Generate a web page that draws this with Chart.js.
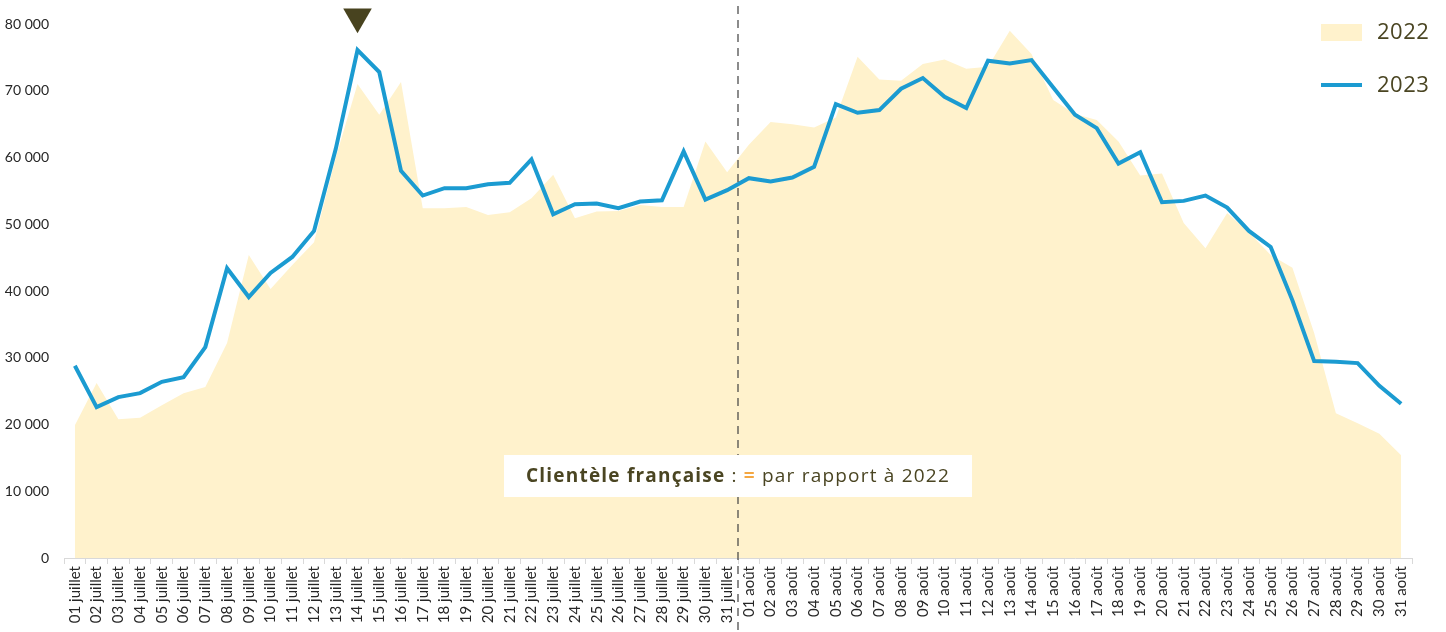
<!DOCTYPE html>
<html lang="fr">
<head>
<meta charset="utf-8">
<title>Clientèle française juillet-août</title>
<script src="https://cdn.jsdelivr.net/npm/chart.js@4/dist/chart.umd.min.js"></script>
<style>
    html, body { margin: 0; padding: 0; background: #fff; }
    #wrap { width: 1446px; height: 632px; position: relative; }
</style>
</head>
<body>
<div id="wrap"><canvas id="frequentationChart"></canvas></div>
<script>
const days = [
    '01 juillet', '02 juillet', '03 juillet', '04 juillet', '05 juillet', '06 juillet', '07 juillet', '08 juillet',
    '09 juillet', '10 juillet', '11 juillet', '12 juillet', '13 juillet', '14 juillet', '15 juillet', '16 juillet',
    '17 juillet', '18 juillet', '19 juillet', '20 juillet', '21 juillet', '22 juillet', '23 juillet', '24 juillet',
    '25 juillet', '26 juillet', '27 juillet', '28 juillet', '29 juillet', '30 juillet', '31 juillet',
    '01 août', '02 août', '03 août', '04 août', '05 août', '06 août', '07 août', '08 août',
    '09 août', '10 août', '11 août', '12 août', '13 août', '14 août', '15 août', '16 août',
    '17 août', '18 août', '19 août', '20 août', '21 août', '22 août', '23 août', '24 août',
    '25 août', '26 août', '27 août', '28 août', '29 août', '30 août', '31 août',
];

const visits2022 = [
    19900, 26200, 20800, 21000, 22900, 24700, 25600, 32200, 45400, 40300, 43900, 47300, 60000, 71000, 66400, 71300,
    52400, 52400, 52600, 51400, 51800, 53900, 57400, 50900, 51900, 52000, 52900, 52600, 52600, 62400, 57800,
    61900, 65300, 65000, 64500, 66000, 75100, 71700, 71500, 74000, 74700, 73300, 73600, 79000, 75500, 68600, 66500,
    65600, 62400, 57300, 57600, 50200, 46400, 51700, 48800, 45400, 43500, 33700, 21700, 20200, 18600, 15400,
];

const visits2023 = [
    28800, 22600, 24100, 24700, 26400, 27100, 31600, 43400, 39100, 42700, 45100, 49000, 61300, 76100, 72800, 58000,
    54300, 55400, 55400, 56000, 56200, 59700, 51500, 53000, 53100, 52400, 53400, 53600, 60900, 53700, 55100,
    56900, 56400, 57000, 58600, 68000, 66700, 67100, 70300, 71900, 69100, 67400, 74500, 74100, 74600, 70500, 66400,
    64400, 59100, 60800, 53300, 53500, 54300, 52500, 49000, 46600, 38600, 29500, 29400, 29200, 25800, 23100,
];

const yTicks = [0, 10000, 20000, 30000, 40000, 50000, 60000, 70000, 80000];

// fête nationale
const markerDay = '14 juillet';
const markerLevel = 81100;
// séparation juillet / août
const monthSplit = ['31 juillet', '01 août'];

const olive = '#4a4522';
const blue = '#1b9bd1';
const cream = '#fff2cc';

function formatThousands(v) {
    return String(v).replace(/\B(?=(\d{3})+(?!\d))/g, ' ');
}

const overlayPlugin = {
    id: 'overlay',
    afterDatasetsDraw(chart) {
        const { ctx, scales } = chart;
        const x = scales.x;
        const xSplit = (x.getPixelForValue(days.indexOf(monthSplit[0])) + x.getPixelForValue(days.indexOf(monthSplit[1]))) / 2;

        // trait pointillé vertical
        ctx.save();
        ctx.strokeStyle = '#404040';
        ctx.lineWidth = 1.2;
        ctx.setLineDash([8, 6]);
        ctx.beginPath();
        ctx.moveTo(xSplit, 6);
        ctx.lineTo(xSplit, chart.height);
        ctx.stroke();
        ctx.restore();

        // encart texte
        const boxW = 468;
        const boxH = 42;
        const boxTop = 455;
        ctx.save();
        ctx.fillStyle = '#fff';
        ctx.fillRect(xSplit - boxW / 2, boxTop, boxW, boxH);

        const parts = [
            { text: 'Clientèle française', font: 'bold 19px "Open Sans"', color: olive },
            { text: ' : ', font: '19px "Open Sans"', color: olive },
            { text: '=', font: 'bold 19px "Open Sans"', color: '#f4a742' },
            { text: ' par rapport à 2022', font: '19px "Open Sans"', color: olive },
        ];
        ctx.letterSpacing = '1.2px';
        let total = 0;
        parts.forEach((p) => {
            ctx.font = p.font;
            p.w = ctx.measureText(p.text).width;
            total += p.w;
        });
        let tx = xSplit - total / 2;
        ctx.textBaseline = 'middle';
        parts.forEach((p) => {
            ctx.font = p.font;
            ctx.fillStyle = p.color;
            ctx.fillText(p.text, tx, boxTop + boxH / 2 + 1);
            tx += p.w;
        });
        ctx.restore();
    },
    afterDraw(chart) {
        const { ctx } = chart;
        ctx.save();
        ctx.fillStyle = cream;
        ctx.fillRect(1321, 24, 41, 17);
        ctx.strokeStyle = blue;
        ctx.lineWidth = 4;
        ctx.beginPath();
        ctx.moveTo(1321, 85);
        ctx.lineTo(1362, 85);
        ctx.stroke();

        ctx.font = '22px "Open Sans"';
        ctx.fillStyle = olive;
        ctx.letterSpacing = '0.5px';
        ctx.textBaseline = 'middle';
        ctx.fillText('2022', 1377, 33);
        ctx.fillText('2023', 1377, 86);
        ctx.restore();
    },
};

const ctx = document.getElementById('frequentationChart').getContext('2d');

const chart = new Chart(ctx, {
    type: 'line',
    data: {
        labels: days,
        datasets: [
            {
                label: 'marker',
                data: days.map((d) => (d === markerDay ? markerLevel : null)),
                showLine: false,
                pointStyle: 'triangle',
                rotation: 180,
                pointRadius: 16.5,
                pointBackgroundColor: '#48431f',
                pointBorderWidth: 0,
                clip: false,
                order: 0,
            },
            {
                label: '2023',
                data: visits2023,
                borderColor: blue,
                borderWidth: 4,
                pointRadius: 0,
                tension: 0,
                fill: false,
                order: 1,
            },
            {
                label: '2022',
                data: visits2022,
                borderWidth: 0,
                borderColor: 'rgba(0,0,0,0)',
                backgroundColor: cream,
                pointRadius: 0,
                tension: 0,
                fill: 'origin',
                order: 2,
            },
        ],
    },
    options: {
        responsive: true,
        maintainAspectRatio: false,
        animation: false,
        layout: {
            padding: { top: 24, right: 34, left: 0, bottom: 0 },
        },
        plugins: {
            legend: { display: false },
            tooltip: { enabled: false },
        },
        scales: {
            x: {
                type: 'category',
                offset: true,
                afterFit: (scale) => {
                    scale.height = 74;
                },
                grid: {
                    offset: true,
                    drawOnChartArea: false,
                    tickLength: 6,
                    color: '#d9d9d9',
                },
                border: { color: '#d9d9d9', width: 1 },
                ticks: {
                    autoSkip: false,
                    minRotation: 90,
                    maxRotation: 90,
                    padding: 2,
                    color: '#262626',
                    font: { family: 'Lato', size: 15 },
                },
            },
            y: {
                min: 0,
                max: 80000,
                afterFit: (scale) => {
                    scale.width = 64;
                },
                afterBuildTicks: (scale) => {
                    scale.ticks = yTicks.map((v) => ({ value: v }));
                },
                grid: { display: false, drawTicks: false },
                border: { display: false },
                ticks: {
                    padding: 15,
                    color: '#262626',
                    font: { family: 'Lato', size: 14 },
                    callback: (v) => formatThousands(v),
                },
            },
        },
    },
    plugins: [overlayPlugin],
});
</script>
</body>
</html>
